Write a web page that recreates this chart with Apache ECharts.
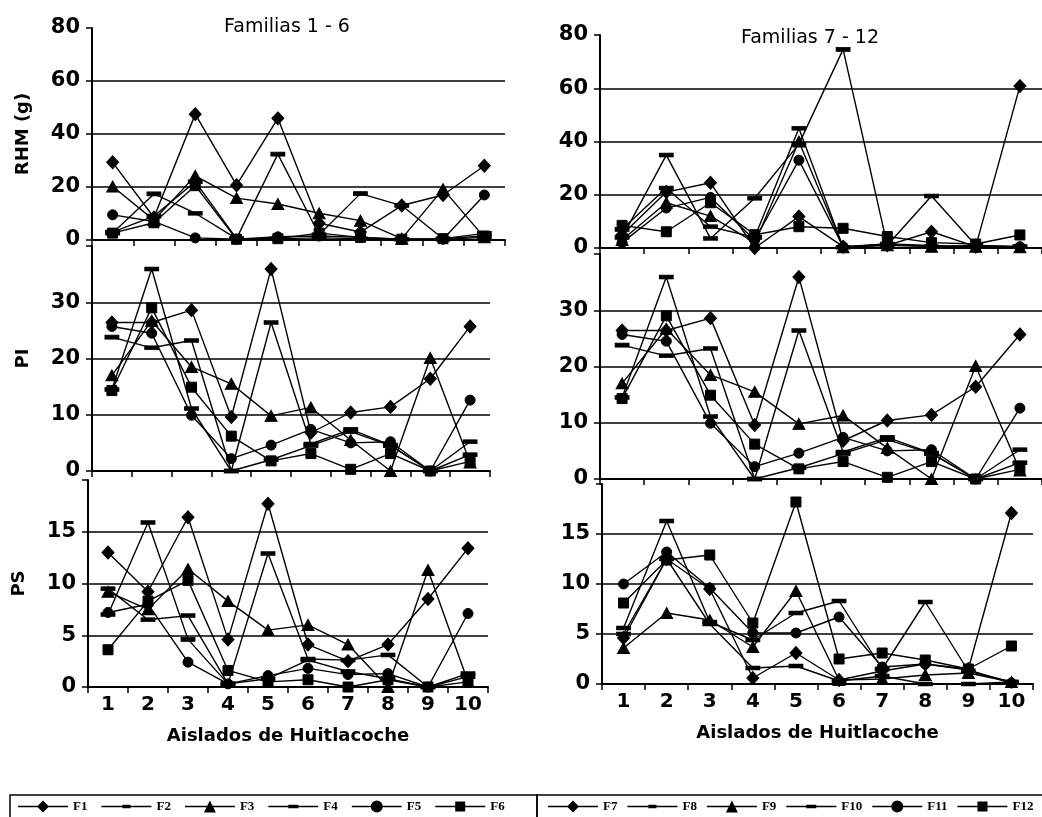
<!DOCTYPE html>
<html><head><meta charset="utf-8">
<script src="https://cdn.jsdelivr.net/npm/echarts@6/dist/echarts.min.js"></script>
<style>html,body{margin:0;padding:0;background:#fff}#c{width:1042px;height:817px}</style>
</head><body><div id="c"></div>
<script>
const categories = ['1','2','3','4','5','6','7','8','9','10'];
const namesLeft = ['F1','F2','F3','F4','F5','F6'];
const namesRight = ['F7','F8','F9','F10','F11','F12'];

// Left column: RHM (g)
const F1_RHM = [29.3, 8.5, 47.5, 20.7, 45.9, 6.3, 3, 13, 17, 28];
const F2_RHM = [2.6, 17.4, 10.1, 0.5, 32.4, 2.0, 17.5, 13, 0.5, 2.5];
const F3_RHM = [20.2, 7.5, 24.2, 15.8, 13.6, 10.1, 7.3, 0.5, 19.2, 1];
const F4_RHM = [3, 9, 22, 0.5, 0.5, 0.8, 0.5, 0.3, 0.3, 1];
const F5_RHM = [9.5, 7, 0.8, 0.3, 1.2, 1.5, 1, 0.3, 0.3, 17];
const F6_RHM = [2.6, 6.5, 20.5, 0.3, 0.5, 2.6, 1, 0.3, 0.5, 1.5];
// Left column: PI
const F1_PI = [26.4, 26.4, 28.6, 9.6, 35.9, 6.8, 10.4, 11.4, 16.4, 25.7];
const F2_PI = [23.8, 21.9, 23.2, 0, 26.4, 4.8, 7.4, 4.6, 0, 5.2];
const F3_PI = [17, 26.7, 18.5, 15.5, 9.8, 11.3, 5.5, 0, 20.1, 1.5];
const F4_PI = [14.5, 35.9, 11.1, 0, 2, 4.5, 7, 4.5, 0, 2.9];
const F5_PI = [25.7, 24.5, 9.9, 2.2, 4.6, 7.4, 5, 5.2, 0, 12.6];
const F6_PI = [14.3, 29, 14.9, 6.2, 1.8, 3.1, 0.3, 3.1, 0, 1.7];
// Left column: PS
const F1_PS = [13.0, 9.2, 16.4, 4.6, 17.7, 4.1, 2.5, 4.1, 8.5, 13.4];
const F2_PS = [9.5, 6.5, 6.9, 0.3, 12.9, 2.7, 2.6, 3.1, 0, 1.3];
const F3_PS = [9.2, 7.5, 11.4, 8.3, 5.5, 6.0, 4.1, 0, 11.3, 0.5];
const F4_PS = [7.0, 15.9, 4.6, 0.3, 0.8, 2.6, 1.5, 0.8, 0, 1.0];
const F5_PS = [7.2, 8.0, 2.4, 0.3, 1.1, 1.8, 1.2, 1.3, 0, 7.1];
const F6_PS = [3.6, 8.3, 10.3, 1.6, 0.5, 0.7, 0, 0.7, 0, 0.5];

// Right column: RHM (g)
const F7_RHM = [5, 21, 24.5, 0, 11.8, 0.5, 1, 6.1, 0.5, 60.8];
const F8_RHM = [4, 34.9, 3.6, 18.7, 39, 74.6, 1, 19.5, 1, 0.5];
const F9_RHM = [3, 17, 12, 2, 40, 0.3, 1, 0.5, 0.5, 0.3];
const F10_RHM = [7, 22.5, 8, 4, 45, 0.3, 1.5, 0.5, 1, 0.5];
const F11_RHM = [2, 15, 19, 3, 33, 0.5, 1.5, 1, 0.5, 0.5];
const F12_RHM = [8.5, 6.1, 17, 5, 8, 7.4, 4.3, 2, 1.5, 4.9];
// Right column: PI
const F7_PI = [26.4, 26.4, 28.6, 9.6, 35.9, 6.8, 10.4, 11.4, 16.4, 25.7];
const F8_PI = [23.8, 21.9, 23.2, 0, 26.4, 4.8, 7.4, 4.6, 0, 5.2];
const F9_PI = [17, 26.7, 18.5, 15.5, 9.8, 11.3, 5.5, 0, 20.1, 1.5];
const F10_PI = [14.5, 35.9, 11.1, 0, 2, 4.5, 7, 4.5, 0, 2.9];
const F11_PI = [25.7, 24.5, 9.9, 2.2, 4.6, 7.4, 5, 5.2, 0, 12.6];
const F12_PI = [14.3, 29, 14.9, 6.2, 1.8, 3.1, 0.3, 3.1, 0, 1.7];
// Right column: PS
const F7_PS = [4.6, 12.5, 9.5, 0.6, 3.1, 0.4, 1.3, 2.0, 1.5, 17.1];
const F8_PS = [5.6, 16.3, 6.2, 4.4, 7.1, 8.3, 1.5, 8.2, 1.3, 0.2];
const F9_PS = [3.6, 7.1, 6.4, 3.7, 9.3, 0.4, 0.5, 0.9, 1.1, 0.2];
const F10_PS = [5.0, 12.5, 6.0, 1.6, 1.8, 0.3, 0.8, 0.0, 0.0, 0.2];
const F11_PS = [10.0, 13.2, 9.6, 5.1, 5.1, 6.7, 1.7, 2.0, 1.4, 0.1];
const F12_PS = [8.1, 12.4, 12.9, 6.1, 18.2, 2.5, 3.1, 2.4, 1.5, 3.8];

const panels = [
  {names: namesLeft,  data: [F1_RHM,F2_RHM,F3_RHM,F4_RHM,F5_RHM,F6_RHM], max: 80, interval: 20, yName: 'RHM (g)', xLabels: false},
  {names: namesLeft,  data: [F1_PI,F2_PI,F3_PI,F4_PI,F5_PI,F6_PI], max: 40, interval: 10, yName: 'PI', xLabels: false},
  {names: namesLeft,  data: [F1_PS,F2_PS,F3_PS,F4_PS,F5_PS,F6_PS], max: 20, interval: 5, yName: 'PS', xLabels: true},
  {names: namesRight, data: [F7_RHM,F8_RHM,F9_RHM,F10_RHM,F11_RHM,F12_RHM], max: 80, interval: 20, yName: '', xLabels: false},
  {names: namesRight, data: [F7_PI,F8_PI,F9_PI,F10_PI,F11_PI,F12_PI], max: 40, interval: 10, yName: '', xLabels: false},
  {names: namesRight, data: [F7_PS,F8_PS,F9_PS,F10_PS,F11_PS,F12_PS], max: 20, interval: 5, yName: '', xLabels: true}
];

const grids = [
  {left: 92, top: 28, width: 413, height: 212},
  {left: 92, top: 246, width: 398, height: 225},
  {left: 88, top: 480, width: 400, height: 207},
  {left: 600, top: 35, width: 450, height: 213},
  {left: 600, top: 254, width: 450, height: 225},
  {left: 602, top: 484, width: 431, height: 200}
];

const markers = [
  {symbol: 'diamond', symbolSize: [12, 13]},
  {symbol: 'rect', symbolSize: [13, 4]},
  {symbol: 'triangle', symbolSize: [12, 11]},
  {symbol: 'rect', symbolSize: [13, 4]},
  {symbol: 'circle', symbolSize: 10},
  {symbol: 'rect', symbolSize: 10}
];

// legend icons: a line with the marker in its middle (50 x 12 box)
const LINE = 'M0,5.3L50,5.3L50,6.7L0,6.7Z';
const legendIcons = [
  'path://' + LINE + 'M25,0L31,6L25,12L19,6Z',
  'path://' + LINE + 'M21,4.3L29,4.3L29,7.7L21,7.7Z',
  'path://' + LINE + 'M25,0L31,12L19,12Z',
  'path://' + LINE + 'M20,4.3L30,4.3L30,7.7L20,7.7Z',
  'path://' + LINE + 'M19,6A6,6 0 1,1 31,6A6,6 0 1,1 19,6Z',
  'path://' + LINE + 'M20,1L30,1L30,11L20,11Z'
];

const FONT = 'DejaVu Sans';
const xAxes = [], yAxes = [], series = [];
panels.forEach((p, i) => {
  xAxes.push({
    type: 'category', gridIndex: i, data: categories, boundaryGap: true,
    axisLine: {show: true, lineStyle: {color: '#000', width: 2}},
    axisTick: {show: true, length: 6, lineStyle: {color: '#000', width: 1.5}},
    axisLabel: {show: p.xLabels, color: '#000', fontFamily: FONT, fontWeight: 'bold', fontSize: 20, margin: 8},
    splitLine: {show: false},
    name: p.xLabels ? 'Aislados de Huitlacoche' : '',
    nameLocation: 'middle', nameGap: 40,
    nameTextStyle: {color: '#000', fontFamily: FONT, fontWeight: 'bold', fontSize: 18}
  });
  yAxes.push({
    type: 'value', gridIndex: i, min: 0, max: p.max, interval: p.interval,
    axisLine: {show: true, lineStyle: {color: '#000', width: 2}},
    axisTick: {show: true, length: 6, lineStyle: {color: '#000', width: 1.5}},
    axisLabel: {color: '#000', fontFamily: FONT, fontWeight: 'bold', fontSize: 21, margin: 12,
      formatter: v => (v === p.max && p.max !== 80) ? '' : String(v)},
    splitLine: {show: true, showMaxLine: false, showMinLine: false, lineStyle: {color: '#000', width: 1.5}},
    name: p.yName, nameLocation: 'middle', nameGap: 60, nameRotate: 90,
    nameTextStyle: {color: '#000', fontFamily: FONT, fontWeight: 'bold', fontSize: 18}
  });
  p.data.forEach((d, k) => {
    series.push({
      type: 'line', name: p.names[k], xAxisIndex: i, yAxisIndex: i, data: d,
      symbol: markers[k].symbol, symbolSize: markers[k].symbolSize, showAllSymbol: true,
      lineStyle: {color: '#000', width: 1.4}, itemStyle: {color: '#000', borderColor: '#000'},
      emphasis: {disabled: true}, animation: false
    });
  });
});

const legendText = {color: '#000', fontFamily: 'Liberation Serif', fontWeight: 'bold', fontSize: 13};
const chart = echarts.init(document.getElementById('c'), null, {renderer: 'canvas'});
chart.setOption({
  backgroundColor: '#fff',
  animation: false,
  title: [
    {text: 'Familias 1 - 6', left: 282, top: 13, textAlign: 'center',
     textStyle: {color: '#000', fontFamily: FONT, fontWeight: 'normal', fontSize: 19}},
    {text: 'Familias 7 - 12', left: 805, top: 24, textAlign: 'center',
     textStyle: {color: '#000', fontFamily: FONT, fontWeight: 'normal', fontSize: 19}}
  ],
  grid: grids,
  xAxis: xAxes,
  yAxis: yAxes,
  series: series,
  legend: [
    {data: namesLeft.map((n, k) => ({name: n, icon: legendIcons[k]})), left: 18, top: 800,
     itemWidth: 50, itemHeight: 12, itemGap: 14, textStyle: legendText, selectedMode: false, padding: 0},
    {data: namesRight.map((n, k) => ({name: n, icon: legendIcons[k]})), left: 548, top: 800,
     itemWidth: 50, itemHeight: 12, itemGap: 10, textStyle: legendText, selectedMode: false, padding: 0}
  ],
  graphic: [
    {type: 'rect', shape: {x: 10, y: 795, width: 527, height: 40}, style: {fill: 'none', stroke: '#000', lineWidth: 1.5}, silent: true},
    {type: 'rect', shape: {x: 537, y: 795, width: 520, height: 40}, style: {fill: 'none', stroke: '#000', lineWidth: 1.5}, silent: true}
  ]
});
</script></body></html>
